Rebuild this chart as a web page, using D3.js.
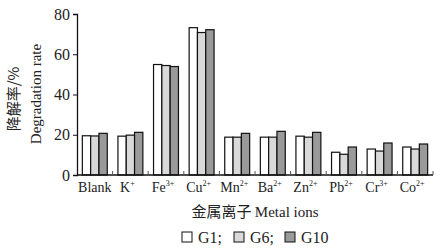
<!DOCTYPE html>
<html>
<head>
<meta charset="utf-8">
<script src="https://cdn.jsdelivr.net/npm/d3@7/dist/d3.min.js"></script>
<style>
  body { margin: 0; background: #fff; }
  svg { display: block; font-family: "Liberation Serif", "Times New Roman", serif; }
  .cjk { font-family: "Noto Sans CJK SC", sans-serif; }
</style>
</head>
<body>
<svg id="chart" width="444" height="252"></svg>
<script>
  const ions = ["Blank", "K", "Fe", "Cu", "Mn", "Ba", "Zn", "Pb", "Cr", "Co"];
  const charges = ["", "+", "3+", "2+", "2+", "2+", "2+", "2+", "3+", "2+"];
  const seriesNames = ["G1", "G6", "G10"];
  const g1 = [19.5, 19.3, 54.9, 73.2, 18.8, 18.8, 19.3, 11.3, 12.9, 13.9];
  const g6 = [19.4, 19.8, 54.4, 70.8, 18.8, 18.8, 18.8, 10.3, 11.9, 12.9];
  const g10 = [20.7, 21.2, 53.9, 72.2, 20.7, 21.7, 21.2, 13.9, 15.9, 15.4];
  const yTicks = [0, 20, 40, 60, 80];
  const colors = ["#ffffff", "#d9d9d9", "#9a9a9a"];

  (function () {
    "use strict";
    const series = [g1, g6, g10];
    const svg = d3.select("#chart");
    const mLeft = 77, mRight = 433, mTop = 14, mBottom = 175;

    const x = d3.scaleBand().domain(ions).range([mLeft, mRight]).paddingInner(0.3).paddingOuter(0.15);
    const xStep = d3.scaleBand().domain(ions).range([mLeft, mRight]).padding(0);
    const xs = d3.scaleBand().domain(seriesNames).range([0, x.bandwidth()]).padding(0);
    const y = d3.scaleLinear().domain([0, 80]).range([mBottom, mTop]);

    // bars
    const grp = svg.append("g").selectAll("g")
      .data(ions)
      .join("g")
      .attr("transform", (d) => `translate(${x(d)},0)`);
    grp.selectAll("rect")
      .data((d, i) => series.map((s, k) => ({ k, v: s[i] })))
      .join("rect")
      .attr("x", (d) => xs(seriesNames[d.k]))
      .attr("y", (d) => y(d.v))
      .attr("width", xs.bandwidth())
      .attr("height", (d) => mBottom - y(d.v))
      .attr("fill", (d) => colors[d.k])
      .attr("stroke", "#111")
      .attr("stroke-width", 1.2);

    // y axis
    const yAxis = svg.append("g")
      .attr("transform", `translate(${mLeft},0)`)
      .call(d3.axisLeft(y).tickValues(yTicks).tickSize(4).tickPadding(3));
    yAxis.select(".domain").attr("stroke", "#111").attr("stroke-width", 1.3);
    yAxis.selectAll(".tick line").attr("stroke", "#111");
    yAxis.selectAll("text").attr("font-size", 16).attr("fill", "#222")
      .attr("font-family", "Liberation Serif");

    // x axis line, small inward ticks at category boundaries
    svg.append("line")
      .attr("x1", mLeft).attr("x2", mRight)
      .attr("y1", mBottom).attr("y2", mBottom)
      .attr("stroke", "#111").attr("stroke-width", 1.3);
    svg.append("g").selectAll("line")
      .data(ions)
      .join("line")
      .attr("x1", (d) => xStep(d) + xStep.bandwidth())
      .attr("x2", (d) => xStep(d) + xStep.bandwidth())
      .attr("y1", mBottom).attr("y2", mBottom - 4)
      .attr("stroke", "#555");

    // x tick labels
    const lab = svg.append("g").selectAll("text")
      .data(ions)
      .join("text")
      .attr("x", (d) => x(d) + x.bandwidth() / 2 - (d === "Blank" ? 0 : 3))
      .attr("y", 192)
      .attr("text-anchor", "middle")
      .attr("font-size", 14)
      .attr("fill", "#222");
    lab.append("tspan").text((d) => d);
    lab.append("tspan")
      .attr("font-size", 8)
      .attr("dy", -6)
      .text((d, i) => charges[i]);

    // y title
    svg.append("text")
      .attr("class", "cjk")
      .attr("transform", "translate(19,99) rotate(-90)")
      .attr("text-anchor", "middle")
      .attr("font-size", 15)
      .attr("fill", "#222")
      .text("降解率/%");
    svg.append("text")
      .attr("transform", "translate(41,94) rotate(-90)")
      .attr("text-anchor", "middle")
      .attr("font-size", 15)
      .attr("fill", "#222")
      .text("Degradation rate");

    // x title
    const xt = svg.append("text")
      .attr("x", 255).attr("y", 217)
      .attr("text-anchor", "middle")
      .attr("font-size", 15)
      .attr("fill", "#222");
    xt.append("tspan").attr("class", "cjk").text("金属离子 ");
    xt.append("tspan").text("Metal ions");

    // legend
    const legendX = [182, 234, 285];
    const leg = svg.append("g").selectAll("g")
      .data(seriesNames)
      .join("g")
      .attr("transform", (d, i) => `translate(${legendX[i]},232)`);
    leg.append("rect")
      .attr("width", 10).attr("height", 10)
      .attr("fill", (d, i) => colors[i])
      .attr("stroke", "#111").attr("stroke-width", 1);
    leg.append("text")
      .attr("x", 16).attr("y", 10.5)
      .attr("font-size", 16)
      .attr("fill", "#222")
      .text((d, i) => d + (i < 2 ? ";" : ""));
  })();
</script>
</body>
</html>
